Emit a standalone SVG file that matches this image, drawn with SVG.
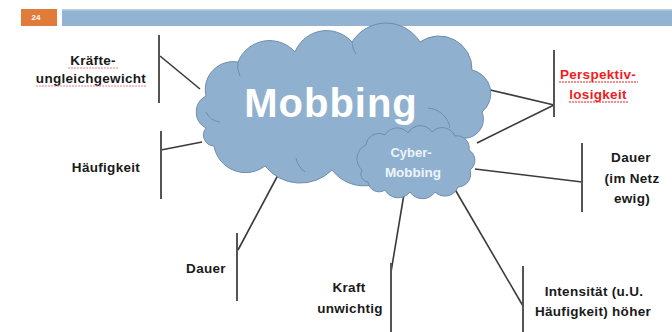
<svg xmlns="http://www.w3.org/2000/svg" width="672" height="332" viewBox="0 0 672 332">
<style>
.lbl{font-family:"Liberation Sans",Arial,sans-serif;font-weight:bold;font-size:13.5px;fill:#1a1a1a;text-anchor:middle;letter-spacing:0.3px}
.red{fill:#f01c1c}
.conn line{stroke:#3a3a3a;stroke-width:1.6;fill:none}
.bar{stroke:#555;stroke-width:2}
.cloud{fill:#8fb1cf;stroke:#6e8eae;stroke-width:1}
.inner{fill:none;stroke:#6e8eae;stroke-width:1}
.squig{stroke:#ef7f86;stroke-width:1;stroke-dasharray:2 1}
</style>
<rect width="672" height="332" fill="#ffffff"/>
<g id="header">
<rect x="21" y="9" width="36" height="17" fill="#e07b39"/>
<text x="36" y="20" font-family="Liberation Sans, Arial, sans-serif" font-weight="bold" font-size="8" fill="#fff" text-anchor="middle">24</text>
<rect x="62" y="9" width="610" height="17" fill="#93b3d2"/>
<rect x="62" y="9" width="610" height="1.5" fill="#b9cfe4"/>
</g>
<g id="connectors" class="conn">
<line x1="160" y1="56" x2="200" y2="89"/>
<line x1="161" y1="150" x2="202" y2="142"/>
<line x1="238" y1="250" x2="278" y2="175"/>
<line x1="404" y1="194" x2="391" y2="272"/>
<line x1="453" y1="186" x2="523" y2="306"/>
<line x1="475" y1="169" x2="582" y2="182"/>
<line x1="486" y1="89" x2="554" y2="105"/>
<line x1="477" y1="143" x2="554" y2="105"/>
</g>
<g id="mobbing">
<path class="cloud" d="M206,128 A18,18 0 0 1 206,96 A28,28 0 0 1 238,62 A34,34 0 0 1 295,52 A34,34 0 0 1 352,42 A40,40 0 0 1 420,42 A33,33 0 0 1 472,70 A24,24 0 0 1 482,112 A19,19 0 0 1 462,138 A40,40 0 0 1 400,163 A40,40 0 0 1 332,170 A45,45 0 0 1 265,166 A32,32 0 0 1 214,146 A11,11 0 0 1 206,128 Z"/>
<path class="inner" d="M206,112 A18,18 0 0 0 220,122"/>
<path class="inner" d="M428,108 A24,24 0 0 1 450,128"/>
<path class="inner" d="M296,158 A22,22 0 0 0 305,172"/>
<path class="inner" d="M352,42 A20,20 0 0 0 356,54"/>
<path class="inner" d="M238,62 A22,22 0 0 0 240,76"/>
<text x="331" y="117" font-family="Liberation Sans, Arial, sans-serif" font-weight="bold" font-size="40" fill="#ffffff" text-anchor="middle" letter-spacing="1">Mobbing</text>
</g>
<g id="cyber">
<path class="cloud" d="M362,170 A15,15 0 0 1 366,145 A13,13 0 0 1 385,135 A14,14 0 0 1 408,133 A14,14 0 0 1 432,132 A14,14 0 0 1 455,136 A12,12 0 0 1 469,150 A12,12 0 0 1 470,170 A13,13 0 0 1 458,187 A14,14 0 0 1 435,192 A15,15 0 0 1 410,192 A15,15 0 0 1 385,190 A11,11 0 0 1 368,182 A8,8 0 0 1 362,170 Z"/>
<text x="411" y="157" font-family="Liberation Sans, Arial, sans-serif" font-weight="bold" font-size="13" fill="#eef4fa" text-anchor="middle">Cyber-</text>
<text x="413" y="177" font-family="Liberation Sans, Arial, sans-serif" font-weight="bold" font-size="13.5" fill="#eef4fa" text-anchor="middle">Mobbing</text>
</g>
<g id="kraefte">
<line class="bar" x1="159" y1="35" x2="159" y2="103"/>
<text class="lbl" x="93" y="65">Kräfte-</text>
<text class="lbl" x="91" y="83">ungleichgewicht</text>
<line class="squig" x1="68" y1="68" x2="119" y2="68"/>
<line class="squig" x1="36" y1="86" x2="147" y2="86"/>
</g>
<g id="haeufigkeit">
<line class="bar" x1="161" y1="131" x2="161" y2="199"/>
<text class="lbl" x="106" y="172">Häufigkeit</text>
</g>
<g id="dauer-links">
<line class="bar" x1="237" y1="233" x2="237" y2="301"/>
<text class="lbl" x="206" y="273">Dauer</text>
</g>
<g id="kraft">
<line class="bar" x1="391" y1="263" x2="391" y2="332"/>
<text class="lbl" x="349" y="292">Kraft</text>
<text class="lbl" x="350" y="313">unwichtig</text>
</g>
<g id="intensitaet">
<line class="bar" x1="523" y1="266" x2="523" y2="332"/>
<text class="lbl" x="594" y="296">Intensität (u.U.</text>
<text class="lbl" x="593" y="316">Häufigkeit) höher</text>
</g>
<g id="dauer-rechts">
<line class="bar" x1="582" y1="143" x2="582" y2="212"/>
<text class="lbl" x="631" y="162">Dauer</text>
<text class="lbl" x="632" y="183">(im Netz</text>
<text class="lbl" x="632" y="203">ewig)</text>
</g>
<g id="perspektiv">
<line class="bar" x1="554" y1="50" x2="554" y2="117"/>
<text class="lbl red" x="598" y="79">Perspektiv-</text>
<text class="lbl red" x="598" y="99">losigkeit</text>
<line class="squig" x1="559" y1="82" x2="638" y2="82" style="stroke:#f01c1c"/>
<line class="squig" x1="569" y1="102" x2="628" y2="102" style="stroke:#f01c1c"/>
</g>
</svg>
